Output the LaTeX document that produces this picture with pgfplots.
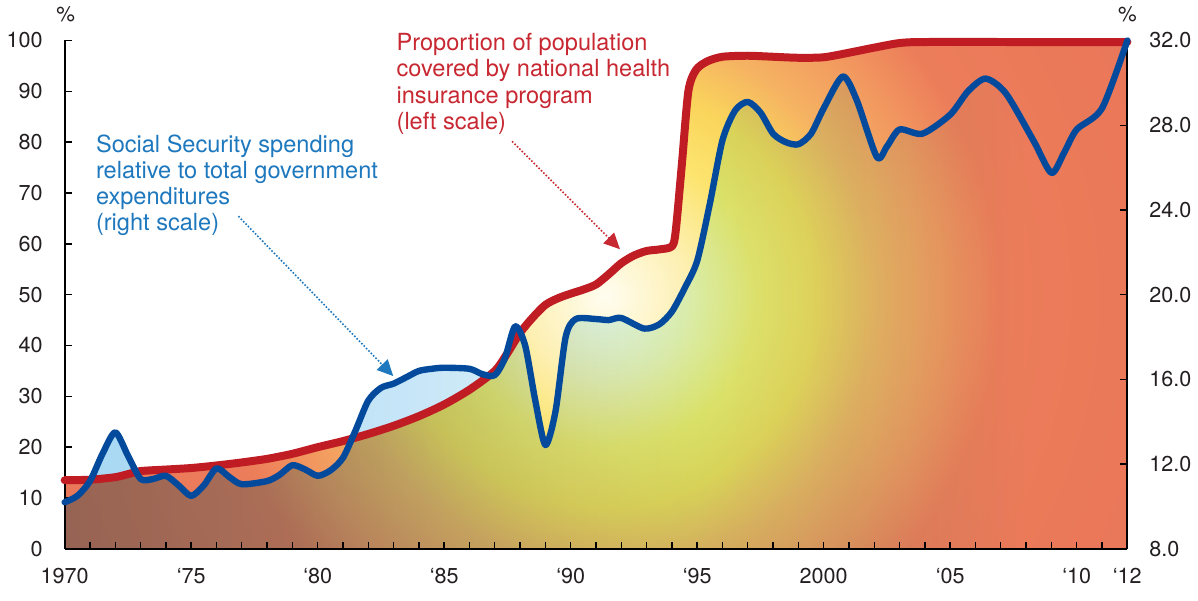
\documentclass[border=0pt]{standalone}
\usepackage{pgfplots}
\pgfplotsset{compat=1.18}
\usepackage{pgfplotstable}
\usepackage{fontspec}
\setmainfont{TeX Gyre Heros}
\usetikzlibrary{arrows.meta}

\definecolor{redline}{RGB}{192,28,36}
\definecolor{blueline}{RGB}{4,74,156}
\definecolor{redtext}{RGB}{200,40,50}
\definecolor{bluetext}{RGB}{30,120,190}
\definecolor{ticktext}{RGB}{35,31,32}

\definecolor{g0}{RGB}{255,253,240}
\definecolor{g1}{RGB}{253,240,180}
\definecolor{g2}{RGB}{252,228,110}
\definecolor{g3}{RGB}{250,213,92}
\definecolor{g4}{RGB}{245,178,98}
\definecolor{g5}{RGB}{242,152,95}
\definecolor{g6}{RGB}{236,125,90}
\definecolor{g7}{RGB}{232,116,88}
\pgfdeclareradialshading{bgrad}{\pgfpointorigin}{color(0bp)=(g0); color(3.1bp)=(g1); color(5.8bp)=(g2); color(8.1bp)=(g3); color(10.4bp)=(g4); color(12.9bp)=(g5); color(15.2bp)=(g6); color(25bp)=(g7); color(50bp)=(g7)}

\definecolor{b0}{RGB}{165,215,242}
\definecolor{b1}{RGB}{200,230,248}
\definecolor{b2}{RGB}{215,240,245}
\definecolor{b3}{RGB}{220,252,245}
\definecolor{b4}{RGB}{228,250,252}
\pgfdeclarehorizontalshading{bfade}{100bp}{color(0bp)=(b0); color(25bp)=(b0); color(41.67bp)=(b1); color(48.81bp)=(b2); color(54.76bp)=(b3); color(61.9bp)=(b4); color(70.24bp)=(white); color(100bp)=(white)}

\pgfplotstableread{
x y
1970 13.5
1971 13.6
1972 14.1
1972.5 14.7
1973 15.3
1974 15.6
1975 15.9
1976 16.4
1977 17.0
1978 17.7
1979 18.7
1980 20.0
1981 21.2
1982 22.6
1983 24.2
1984 26.1
1985 28.4
1986 31.3
1987 35.0
1987.5 38.5
1988 42.5
1988.5 45.5
1989 48.0
1989.5 49.3
1990 50.2
1990.5 51.0
1991 52.0
1991.5 54.0
1992 56.2
1992.5 57.7
1993 58.6
1993.5 58.9
1994 59.5
1994.15 62.5
1994.4 76
1994.65 90
1994.95 94.2
1995.4 95.9
1996 96.8
1997 97.0
1998 96.8
1999 96.6
2000 96.7
2001 97.6
2002 98.6
2003 99.5
2004 99.7
2008 99.7
2012 99.7
}\redtab

\pgfplotstableread{
x y
1970 10.2
1970.5 10.5
1971 11.2
1971.5 12.5
1972 13.5
1972.5 12.4
1973 11.3
1973.5 11.3
1974 11.45
1974.5 11.0
1975 10.5
1975.5 11.0
1976 11.8
1976.5 11.4
1977 11.05
1978 11.2
1978.5 11.5
1979 11.95
1979.5 11.75
1980 11.45
1980.5 11.7
1981 12.3
1981.5 13.6
1982 15.0
1982.5 15.6
1983 15.8
1983.5 16.1
1984 16.4
1984.5 16.5
1985 16.55
1986 16.5
1986.5 16.25
1987 16.2
1987.4 17.0
1987.8 18.5
1988.2 17.6
1988.6 15.0
1989 12.9
1989.4 14.5
1989.8 18.0
1990.2 18.85
1991 18.85
1991.5 18.8
1992 18.9
1992.9 18.4
1993.5 18.6
1994 19.2
1994.5 20.3
1995 21.6
1995.5 24.3
1996 27.3
1996.5 28.7
1997 29.1
1997.5 28.6
1998 27.6
1998.5 27.2
1999 27.1
1999.5 27.6
2000 28.8
2000.75 30.3
2001.3 29.2
2002.1 26.5
2002.5 27.0
2003 27.8
2003.9 27.6
2005 28.5
2005.7 29.6
2006.4 30.2
2007.2 29.5
2008.3 27.25
2009 25.75
2009.5 26.7
2010 27.8
2011 28.8
2012 32.0
}\bluetab

\begin{document}
\begin{tikzpicture}
\pgfplotsset{
  every axis/.append style={
    at={(0,0)}, anchor=south west,
    scale only axis, width=532pt, height=254.5pt,
    xmin=1970, xmax=2012,
    tick align=inside,
    major tick length=3.5pt, minor tick length=3.5pt,
    every tick/.style={black, line width=0.7pt},
    axis line style={black, line width=0.9pt},
    tick label style={font=\fontsize{10.8}{12}\selectfont, color=ticktext},
    /pgf/number format/assume math mode=true,
  }
}
\begin{axis}[
  ymin=0, ymax=100,
  axis x line*=bottom, axis y line*=left,
  axis on top,
  xtick={1970,1975,1980,1985,1990,1995,2000,2005,2010,2012},
  xticklabels={1970,‘75,‘80,‘85,‘90,‘95,2000,‘05,‘10,‘12},
  minor xtick={1970,...,2012},
  ytick={0,10,...,100},
  yticklabel style={xshift=-7.5pt},
  xticklabel style={text height=7.6pt, text depth=0pt, yshift=-6pt},
]
\fill[shading=bgrad] (axis cs:1965.70,-78.0) rectangle (axis cs:2017.02,177.4);
\addplot[draw=none, fill=white, smooth, tension=0.45] table[x=x,y=y] {\redtab}
  -- (axis cs:2012,130) -- (axis cs:1970,130) -- cycle;
\addplot[draw=none, shading=bfade, blend mode=multiply, smooth, tension=0.45]
  table[x=x, y expr=(\thisrow{y}-8)/0.24] {\bluetab} \closedcycle;
\end{axis}
\begin{axis}[
  ymin=8, ymax=32,
  axis y line*=right, axis x line=none,
  clip=false,
  ytick={8,12,...,32},
  yticklabel style={xshift=7.5pt, /pgf/number format/.cd, fixed, fixed zerofill, precision=1},
]
\addplot[redline, line width=4pt, line cap=round, line join=round, smooth, tension=0.45]
  table[x=x, y expr=8+0.24*\thisrow{y}] {\redtab};
\addplot[blueline, line width=3.2pt, line cap=round, line join=round, smooth, tension=0.45]
  table[x=x, y=y] {\bluetab};
\end{axis}

% percent signs
\node[font=\fontsize{10.5}{12}\selectfont, color=ticktext, anchor=base] at (0.5pt,264pt) {\%};
\node[font=\fontsize{10.5}{12}\selectfont, color=ticktext, anchor=base] at (532pt,264pt) {\%};

% red annotation
\begin{scope}[every node/.style={font=\fontsize{11.8}{13}\selectfont, color=redtext, anchor=base west, inner sep=0pt}]
\node at (166pt,249.5pt) {Proportion of population};
\node at (166pt,236.35pt) {covered by national health};
\node at (166pt,223.15pt) {insurance program};
\node at (166pt,210pt) {(left scale)};
\end{scope}
\draw[redtext, line width=0.8pt, dash pattern=on 0.8pt off 0.9pt, -{Triangle[length=8pt,width=7.5pt]}] (224pt,204pt) -- (278pt,150pt);

% blue annotation
\begin{scope}[every node/.style={font=\fontsize{11.8}{13}\selectfont, color=bluetext, anchor=base west, inner sep=0pt}]
\node at (15.5pt,198.65pt) {Social Security spending};
\node at (15.5pt,185.6pt) {relative to total government};
\node at (15.5pt,172.55pt) {expenditures};
\node at (15.5pt,159.5pt) {(right scale)};
\end{scope}
\draw[bluetext, line width=0.8pt, dash pattern=on 0.8pt off 0.9pt, -{Triangle[length=8pt,width=7.5pt]}] (87pt,166.5pt) -- (164.5pt,86.5pt);

\path (-32pt,-26pt) rectangle (567pt,274pt);
\end{tikzpicture}
\end{document}
